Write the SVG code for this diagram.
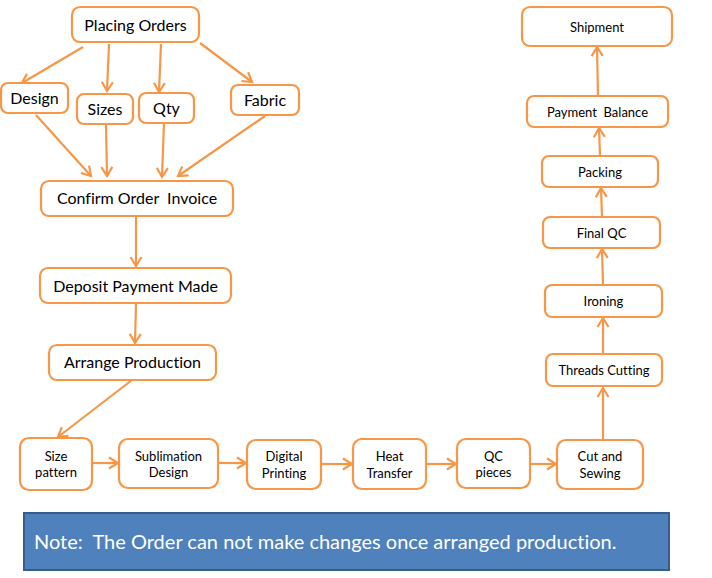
<svg xmlns="http://www.w3.org/2000/svg" width="712" height="578" viewBox="0 0 712 578">
<style>
.n{fill:#fff;stroke:#F79646;stroke-width:2.2}
text{font-variant-ligatures:none}
.t{font-family:Lato,"Liberation Sans",sans-serif;fill:#000;text-anchor:middle}
.b{font-size:16px}
.s{font-size:13px}
.c line{stroke:#F79646;stroke-width:2.2;marker-end:url(#ah)}
</style>
<defs>
<marker id="ah" markerUnits="userSpaceOnUse" markerWidth="14" markerHeight="14" viewBox="0 0 14 14" refX="11" refY="7" orient="auto">
<path d="M2,1.5 L11,7 L2,12.5" fill="none" stroke="#F79646" stroke-width="2.2"/>
</marker>
</defs>
<rect width="712" height="578" fill="#fff"/>
<g class="c" id="connectors">
<line x1="83" y1="47" x2="22" y2="83"/>
<line x1="109" y1="44" x2="107" y2="91"/>
<line x1="161" y1="44" x2="159" y2="92"/>
<line x1="200" y1="43" x2="252" y2="82"/>
<line x1="36" y1="115" x2="91" y2="176"/>
<line x1="106" y1="125" x2="107" y2="176"/>
<line x1="164" y1="123" x2="162" y2="177"/>
<line x1="265" y1="116" x2="178" y2="176"/>
<line x1="136" y1="216" x2="136" y2="266"/>
<line x1="136" y1="303" x2="135" y2="343"/>
<line x1="132" y1="380" x2="58" y2="437"/>
<line x1="92" y1="463" x2="118" y2="463"/>
<line x1="218" y1="463" x2="246" y2="463"/>
<line x1="321" y1="464" x2="352" y2="464"/>
<line x1="426" y1="464" x2="456" y2="464"/>
<line x1="530" y1="464" x2="556" y2="464"/>
<line x1="603" y1="440" x2="603" y2="388"/>
<line x1="603" y1="354" x2="603" y2="318"/>
<line x1="603" y1="285" x2="602" y2="249"/>
<line x1="602" y1="217" x2="601" y2="188"/>
<line x1="600" y1="156" x2="599" y2="128"/>
<line x1="598" y1="96" x2="597" y2="47"/>
</g>
<g id="placing-orders"><rect class="n" x="72" y="7" width="127" height="35" rx="8"/><text class="t b" x="135.5" y="30.5">Placing Orders</text></g>
<g id="design"><rect class="n" x="1" y="83" width="67" height="30" rx="7"/><text class="t b" x="34.5" y="104">Design</text></g>
<g id="sizes"><rect class="n" x="77" y="94" width="56" height="30" rx="7"/><text class="t b" x="105" y="115">Sizes</text></g>
<g id="qty"><rect class="n" x="139" y="93" width="55" height="30" rx="7"/><text class="t b" x="166.5" y="114">Qty</text></g>
<g id="fabric"><rect class="n" x="231" y="85" width="68" height="30" rx="7"/><text class="t b" x="265" y="106">Fabric</text></g>
<g id="confirm-order-invoice"><rect class="n" x="41" y="181" width="192" height="35" rx="8"/><text class="t b" x="137" y="204" xml:space="preserve">Confirm Order  Invoice</text></g>
<g id="deposit-payment-made"><rect class="n" x="40" y="268" width="191" height="35" rx="8"/><text class="t b" x="135.5" y="291.5">Deposit Payment Made</text></g>
<g id="arrange-production"><rect class="n" x="49" y="345" width="167" height="35" rx="8"/><text class="t b" x="132.5" y="368">Arrange Production</text></g>
<g id="size-pattern"><rect class="n" x="20" y="438" width="72" height="52" rx="9"/><text class="t s" x="56" y="460.5">Size</text><text class="t s" x="56" y="477">pattern</text></g>
<g id="sublimation-design"><rect class="n" x="119" y="439" width="99" height="49" rx="9"/><text class="t s" x="168.5" y="460.5">Sublimation</text><text class="t s" x="168.5" y="477">Design</text></g>
<g id="digital-printing"><rect class="n" x="247" y="440" width="74" height="49" rx="9"/><text class="t s" x="284" y="461">Digital</text><text class="t s" x="284" y="477.5">Printing</text></g>
<g id="heat-transfer"><rect class="n" x="353" y="439" width="73" height="50" rx="9"/><text class="t s" x="389.5" y="461">Heat</text><text class="t s" x="389.5" y="477.5">Transfer</text></g>
<g id="qc-pieces"><rect class="n" x="457" y="439" width="73" height="49" rx="9"/><text class="t s" x="493.5" y="460.5">QC</text><text class="t s" x="493.5" y="477">pieces</text></g>
<g id="cut-and-sewing"><rect class="n" x="557" y="440" width="86" height="49" rx="9"/><text class="t s" x="600" y="461">Cut and</text><text class="t s" x="600" y="477.5">Sewing</text></g>
<g id="threads-cutting"><rect class="n" x="546" y="354" width="116" height="32" rx="7"/><text class="t s" x="604" y="374.5">Threads Cutting</text></g>
<g id="ironing"><rect class="n" x="545" y="285" width="117" height="32" rx="7"/><text class="t s" x="603.5" y="306">Ironing</text></g>
<g id="final-qc"><rect class="n" x="543" y="217" width="117" height="31" rx="7"/><text class="t s" x="601.5" y="237.5">Final QC</text></g>
<g id="packing"><rect class="n" x="542" y="156" width="116" height="31" rx="7"/><text class="t s" x="600" y="176.5">Packing</text></g>
<g id="payment-balance"><rect class="n" x="527" y="96" width="141" height="31" rx="7"/><text class="t s" x="597.5" y="116.5" xml:space="preserve">Payment  Balance</text></g>
<g id="shipment"><rect class="n" x="522" y="7" width="150" height="39" rx="8"/><text class="t s" x="597" y="31.5">Shipment</text></g>
<g id="note"><rect x="24" y="513" width="645" height="57" fill="#4F81BD" stroke="#385D8A" stroke-width="2"/><text x="34" y="549" font-family="Lato,'Liberation Sans',sans-serif" font-size="20" fill="#fff" xml:space="preserve">Note:  The Order can not make changes once arranged production.</text></g>
</svg>
